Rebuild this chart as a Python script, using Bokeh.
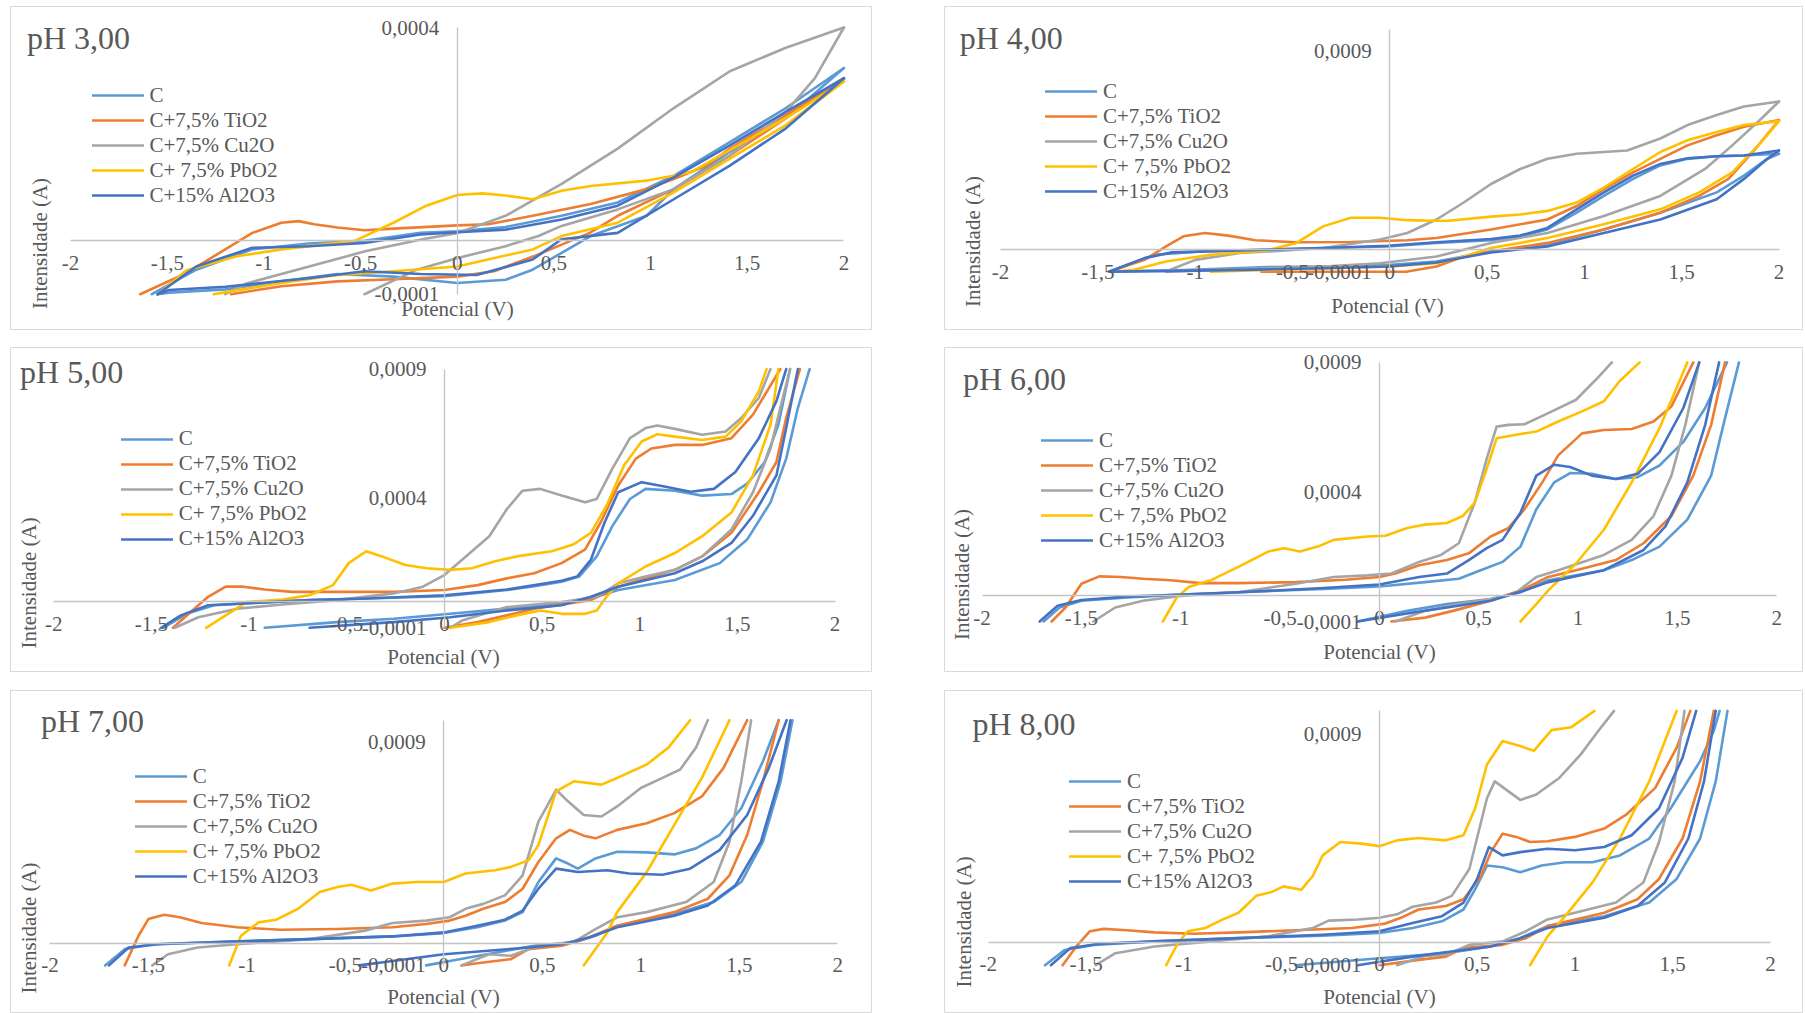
import math
from bokeh.plotting import figure
from bokeh.models import (Range1d, FixedTicker, CustomJSTickFormatter, Label, Legend,
                          LegendItem, Spacer)
from bokeh.layouts import row, column
from bokeh.embed import file_html
from bokeh.resources import INLINE

# ---------------------------------------------------------------- data
I_UNIT = 1e-4  # currents below are given in units of 0.1 mA (1e-4 A)

SERIES = ["C", "C+7,5% TiO2", "C+7,5% Cu2O", "C+ 7,5% PbO2", "C+15% Al2O3"]
COLORS = ["#5B9BD5", "#ED7D31", "#A5A5A5", "#FFC000", "#4472C4"]
PANEL_TITLES = ["pH 3,00", "pH 4,00", "pH 5,00", "pH 6,00", "pH 7,00", "pH 8,00"]
X_TICKS = [-2, -1.5, -1, -0.5, 0, 0.5, 1, 1.5, 2]
Y_TICKS_PH3 = [-0.0001, 0.0004]
Y_TICKS_PH4 = [-0.0001, 0.0009]
Y_TICKS_PH5 = [-0.0001, 0.0004, 0.0009]
Y_TICKS_PH6 = [-0.0001, 0.0004, 0.0009]
Y_TICKS_PH7 = [-0.0001, 0.0009]
Y_TICKS_PH8 = [-0.0001, 0.0009]
Y_MIN = -0.0001
Y_MAX = [0.0004, 0.001, 0.0009, 0.0009, 0.001, 0.001]
X_LABEL = "Potencial (V)"
Y_LABEL = "Intensidade (A)"

# ---- pH 3
PH3_C_V_FWD = [-1.58,-1.35,-1.06,-0.77,-0.48,-0.19,0,0.25,0.54,0.83,1.12,1.41,1.70,2.0]
PH3_C_I_FWD = [-1.0,-0.54,-0.16,-0.05,0,0.15,0.18,0.26,0.47,0.72,1.22,1.85,2.49,3.24]
PH3_C_V_REV = [2.0,1.70,1.41,1.12,0.98,0.69,0.39,0.25,0,-0.33,-0.62,-0.91,-1.20,-1.49,-1.55]
PH3_C_I_REV = [3.24,2.30,1.67,0.97,0.47,0.09,-0.54,-0.73,-0.79,-0.67,-0.62,-0.76,-0.91,-0.97,-1.0]
PH3_TIO2_V_FWD = [-1.64,-1.405,-1.20,-1.06,-0.91,-0.82,-0.74,-0.62,-0.48,-0.33,0,0.16,0.39,0.69,0.98,1.12,1.29,1.41,1.70,2.0]
PH3_TIO2_I_FWD = [-1.0,-0.61,-0.16,0.15,0.34,0.37,0.31,0.25,0.20,0.23,0.29,0.31,0.47,0.69,0.97,1.16,1.41,1.73,2.36,3.04]
PH3_TIO2_V_REV = [2.0,1.70,1.41,1.12,0.83,0.685,0.395,0.19,0,-0.33,-0.62,-0.91,-1.17]
PH3_TIO2_I_REV = [3.04,2.30,1.60,0.97,0.47,0.15,-0.29,-0.57,-0.67,-0.72,-0.76,-0.85,-1.0]
PH3_CU2O_V_FWD = [-1.20,-1.086,-0.766,-0.476,-0.186,0.003,0.25,0.54,0.83,1.12,1.41,1.70,2.0]
PH3_CU2O_I_FWD = [-1.0,-0.795,-0.48,-0.196,0.025,0.15,0.47,1.07,1.73,2.49,3.18,3.62,4.0]
PH3_CU2O_V_REV = [2.0,1.85,1.70,1.41,1.12,0.83,0.54,0.42,0.25,0.003,-0.21,-0.48]
PH3_CU2O_I_REV = [4.0,3.05,2.42,1.60,0.97,0.59,0.28,0.09,-0.10,-0.32,-0.54,-1.0]
PH3_PBO2_V_FWD = [-1.55,-1.40,-1.14,-0.91,-0.53,-0.33,-0.16,0,0.13,0.25,0.39,0.54,0.69,0.98,1.12,1.21,1.41,1.70,2.0]
PH3_PBO2_I_FWD = [-1.0,-0.55,-0.29,-0.16,0,0.34,0.66,0.86,0.89,0.85,0.78,0.94,1.03,1.13,1.22,1.29,1.70,2.30,2.99]
PH3_PBO2_V_REV = [2.0,1.70,1.41,1.12,0.83,0.54,0.39,0,-0.33,-0.62,-0.91,-1.26]
PH3_PBO2_I_REV = [2.99,2.17,1.54,0.91,0.34,0.09,-0.16,-0.48,-0.57,-0.64,-0.79,-1.0]
PH3_AL2O3_V_FWD = [-1.55,-1.35,-1.06,-0.77,-0.48,-0.19,0,0.25,0.54,0.83,1.12,1.41,1.70,2.0]
PH3_AL2O3_I_FWD = [-1.0,-0.48,-0.13,-0.10,-0.04,0.12,0.16,0.21,0.40,0.66,1.19,1.79,2.42,3.05]
PH3_AL2O3_V_REV = [2.0,1.70,1.41,1.12,0.83,0.54,0.39,0.10,-0.19,-0.48,-0.77,-1.20,-1.49,-1.55]
PH3_AL2O3_I_REV = [3.05,2.11,1.41,0.78,0.15,0.03,-0.35,-0.64,-0.62,-0.57,-0.70,-0.86,-0.92,-1.0]

# ---- pH 4
PH4_C_V_FWD = [-1.44,-1.21,-0.97,-0.63,-0.34,-0.01,0.24,0.52,0.67,0.81,0.96,1.10,1.25,1.39,1.53,1.68,1.82,2.0]
PH4_C_I_FWD = [-0.99,-0.23,-0.08,0,0.08,0.15,0.31,0.43,0.61,0.92,1.68,2.44,3.21,3.82,4.12,4.24,4.27,4.35]
PH4_C_V_REV = [2.0,1.94,1.82,1.68,1.39,1.10,0.81,0.52,0.24,-0.01,-0.34,-0.63,-1.06,-1.44]
PH4_C_I_REV = [4.35,4.12,3.36,2.60,1.68,0.92,0.23,-0.08,-0.53,-0.69,-0.76,-0.79,-0.92,-0.99]
PH4_TIO2_V_FWD = [-1.44,-1.26,-1.15,-1.06,-0.95,-0.83,-0.69,-0.48,-0.20,0.09,0.24,0.52,0.81,0.96,1.10,1.25,1.39,1.53,1.68,1.82,2.0]
PH4_TIO2_I_FWD = [-0.99,-0.46,0.15,0.61,0.76,0.64,0.43,0.34,0.35,0.43,0.53,0.92,1.37,1.98,2.75,3.51,4.12,4.73,5.19,5.57,5.88]
PH4_TIO2_V_REV = [2.0,1.88,1.74,1.59,1.39,1.10,0.81,0.52,0.38,0.24,0.09,-0.34,-0.66]
PH4_TIO2_I_REV = [5.88,4.58,3.21,2.44,1.68,0.92,0.31,-0.08,-0.31,-0.76,-0.99,-1.0,-1.0]
PH4_CU2O_V_FWD = [-1.15,-1.0,-0.77,-0.63,-0.34,-0.05,0.09,0.24,0.38,0.52,0.67,0.81,0.96,1.10,1.22,1.39,1.53,1.68,1.82,2.0]
PH4_CU2O_I_FWD = [-0.99,-0.46,-0.15,-0.08,0.08,0.46,0.76,1.37,2.14,2.98,3.66,4.12,4.35,4.43,4.50,5.04,5.65,6.11,6.49,6.72]
PH4_CU2O_V_REV = [2.0,1.91,1.76,1.62,1.39,1.10,0.81,0.52,0.24,-0.05,-0.34,-0.63,-0.92,-1.15]
PH4_CU2O_I_REV = [6.72,5.95,4.73,3.66,2.44,1.53,0.76,0.31,-0.31,-0.61,-0.76,-0.84,-0.92,-0.99]
PH4_PBO2_V_FWD = [-1.41,-1.32,-1.15,-0.92,-0.63,-0.48,-0.34,-0.20,-0.05,0.09,0.29,0.52,0.67,0.81,0.96,1.10,1.25,1.39,1.53,1.68,1.82,2.0]
PH4_PBO2_I_FWD = [-0.99,-0.92,-0.53,-0.23,-0.03,0.31,1.07,1.45,1.45,1.34,1.30,1.50,1.60,1.76,2.14,2.82,3.66,4.43,4.96,5.34,5.65,5.83]
PH4_PBO2_V_REV = [2.0,1.91,1.76,1.59,1.39,1.10,0.81,0.52,0.38,0.24,0.01,-0.34,-0.63,-0.92]
PH4_PBO2_I_REV = [5.83,4.89,3.51,2.60,1.83,1.15,0.53,0.08,-0.31,-0.61,-0.76,-0.84,-0.92,-1.0]
PH4_AL2O3_V_FWD = [-1.44,-1.26,-1.12,-0.77,-0.34,-0.01,0.24,0.52,0.67,0.81,0.96,1.10,1.25,1.39,1.53,1.68,1.82,2.0]
PH4_AL2O3_I_FWD = [-0.99,-0.38,-0.12,-0.03,0.08,0.18,0.34,0.49,0.64,0.99,1.83,2.60,3.36,3.89,4.15,4.24,4.27,4.50]
PH4_AL2O3_V_REV = [2.0,1.94,1.82,1.68,1.39,1.10,0.81,0.52,0.24,-0.01,-0.34,-0.63,-1.06,-1.44]
PH4_AL2O3_I_REV = [4.50,4.12,3.21,2.29,1.37,0.76,0.15,-0.12,-0.58,-0.76,-0.84,-0.89,-0.96,-0.99]

# ---- pH 5
PH5_C_V_FWD = [-1.44,-1.32,-1.18,-0.98,-0.69,-0.40,0,0.32,0.46,0.60,0.69,0.78,0.86,0.95,1.03,1.18,1.32,1.47,1.55,1.64,1.71,1.77]
PH5_C_I_FWD = [-1.0,-0.46,-0.13,-0.04,0.07,0.13,0.22,0.46,0.61,0.78,0.98,1.76,2.93,3.98,4.37,4.30,4.11,4.17,4.57,5.41,6.85,9.0]
PH5_C_V_REV = [1.87,1.81,1.75,1.67,1.55,1.41,1.18,0.89,0.75,0.60,0.32,0.03,-0.26,-0.55,-0.92]
PH5_C_I_REV = [9.0,7.5,5.54,3.85,2.41,1.50,0.85,0.46,0.13,-0.07,-0.26,-0.46,-0.65,-0.78,-1.0]
PH5_TIO2_V_FWD = [-1.39,-1.29,-1.21,-1.12,-1.03,-0.92,-0.78,-0.55,-0.26,0,0.17,0.32,0.46,0.60,0.72,0.80,0.89,0.98,1.06,1.18,1.32,1.47,1.58,1.72]
PH5_TIO2_I_FWD = [-1.0,-0.33,0.20,0.59,0.59,0.48,0.39,0.39,0.39,0.46,0.65,0.91,1.11,1.50,2.02,3.07,4.50,5.54,5.93,6.07,6.07,6.33,7.24,9.0]
PH5_TIO2_V_REV = [1.82,1.75,1.70,1.61,1.47,1.32,1.18,1.03,0.89,0.75,0.60,0.46,0.32,0.17,0]
PH5_TIO2_I_REV = [9.0,7.11,5.41,4.24,2.67,1.76,1.24,0.91,0.59,0.07,-0.10,-0.26,-0.52,-0.78,-1.0]
PH5_CU2O_V_FWD = [-1.38,-1.26,-1.06,-0.83,-0.55,-0.26,-0.11,0,0.11,0.23,0.32,0.40,0.49,0.60,0.72,0.78,0.86,0.95,1.03,1.09,1.18,1.32,1.44,1.52,1.61,1.67]
PH5_CU2O_I_FWD = [-1.0,-0.59,-0.26,-0.10,0.07,0.33,0.59,1.04,1.76,2.54,3.59,4.30,4.37,4.11,3.85,3.98,5.15,6.33,6.72,6.82,6.69,6.46,6.59,7.11,7.89,9.0]
PH5_CU2O_V_REV = [1.77,1.72,1.67,1.58,1.47,1.32,1.18,1.03,0.89,0.78,0.60,0.32,0.09,0.03]
PH5_CU2O_I_REV = [9.0,7.50,5.93,4.24,2.80,1.76,1.24,0.98,0.72,0.20,0,-0.20,-0.72,-1.0]
PH5_PBO2_V_FWD = [-1.22,-1.12,-1.01,-0.83,-0.69,-0.57,-0.49,-0.40,-0.32,-0.20,-0.09,0.03,0.14,0.26,0.37,0.55,0.66,0.75,0.83,0.92,1.01,1.09,1.18,1.32,1.44,1.52,1.61,1.65]
PH5_PBO2_I_FWD = [-1.0,-0.52,0,0.09,0.26,0.65,1.50,1.96,1.76,1.43,1.30,1.24,1.30,1.57,1.76,1.96,2.22,2.67,3.72,5.28,6.20,6.48,6.39,6.26,6.39,6.98,8.15,9.0]
PH5_PBO2_V_REV = [1.71,1.67,1.58,1.47,1.32,1.18,1.03,0.89,0.83,0.78,0.72,0.60,0.49,0.37,0.23,0.03]
PH5_PBO2_I_REV = [9.0,6.85,4.89,3.46,2.54,1.89,1.37,0.72,0.20,-0.33,-0.46,-0.46,-0.33,-0.52,-0.78,-1.0]
PH5_AL2O3_V_FWD = [-1.45,-1.35,-1.21,-0.98,-0.69,-0.40,0,0.32,0.60,0.68,0.75,0.82,0.89,1.01,1.12,1.26,1.38,1.49,1.61,1.70,1.75]
PH5_AL2O3_I_FWD = [-1.0,-0.52,-0.13,-0.04,0.07,0.13,0.26,0.48,0.82,0.98,1.63,3.07,4.24,4.63,4.47,4.26,4.37,5.02,6.33,7.76,9.0]
PH5_AL2O3_V_REV = [1.81,1.75,1.70,1.58,1.47,1.32,1.18,0.89,0.75,0.60,0.32,0.03,-0.26,-0.69]
PH5_AL2O3_I_REV = [9.0,6.72,4.89,3.33,2.28,1.57,1.11,0.59,0.20,-0.13,-0.33,-0.59,-0.78,-1.0]

# ---- pH 6
PH6_C_V_FWD = [-1.69,-1.61,-1.50,-1.27,-0.99,-0.71,-0.28,0,0.23,0.40,0.51,0.62,0.71,0.79,0.88,0.96,1.07,1.19,1.30,1.41,1.53,1.64,1.75]
PH6_C_I_FWD = [-1.0,-0.46,-0.20,-0.07,0.04,0.13,0.26,0.35,0.52,0.65,0.98,1.30,1.89,3.33,4.37,4.73,4.70,4.50,4.57,5.02,5.93,7.24,9.0]
PH6_C_V_REV = [1.81,1.74,1.67,1.55,1.41,1.27,1.13,0.85,0.71,0.56,0.34,0.14,-0.11]
PH6_C_I_REV = [9.0,6.85,4.63,2.93,1.89,1.37,0.98,0.59,0.13,-0.13,-0.33,-0.59,-1.0]
PH6_TIO2_V_FWD = [-1.65,-1.58,-1.50,-1.41,-1.30,-1.19,-1.05,-0.90,-0.71,-0.42,-0.17,0,0.08,0.20,0.34,0.45,0.56,0.65,0.73,0.82,0.90,1.02,1.13,1.27,1.38,1.47,1.58]
PH6_TIO2_I_FWD = [-1.0,-0.46,0.46,0.74,0.72,0.65,0.59,0.48,0.48,0.52,0.61,0.72,0.85,1.17,1.37,1.63,2.28,2.61,3.33,4.37,5.41,6.26,6.39,6.43,6.72,7.30,9.0]
PH6_TIO2_V_REV = [1.74,1.67,1.58,1.47,1.33,1.19,0.99,0.85,0.73,0.56,0.37,0.23,0.06]
PH6_TIO2_I_REV = [9.0,6.59,4.63,3.07,2.02,1.37,0.98,0.72,0.26,-0.20,-0.59,-0.85,-1.0]
PH6_CU2O_V_FWD = [-1.44,-1.33,-1.19,-0.99,-0.71,-0.42,-0.23,-0.06,0.06,0.20,0.31,0.40,0.48,0.54,0.59,0.65,0.73,0.85,0.99,1.10,1.17]
PH6_CU2O_I_FWD = [-1.0,-0.46,-0.20,0,0.13,0.46,0.72,0.78,0.85,1.30,1.57,2.02,3.59,5.28,6.52,6.59,6.61,7.04,7.56,8.41,9.0]
PH6_CU2O_V_REV = [1.61,1.54,1.47,1.38,1.27,1.13,0.90,0.79,0.68,0.56,0.40,0.23,0.08]
PH6_CU2O_I_REV = [9.0,6.59,4.63,3.07,2.15,1.57,0.98,0.72,0.07,-0.13,-0.33,-0.59,-1.0]
PH6_PBO2_V_FWD = [-1.09,-1.02,-0.96,-0.85,-0.71,-0.56,-0.48,-0.40,-0.31,-0.23,-0.06,0.03,0.14,0.23,0.34,0.42,0.48,0.54,0.59,0.68,0.79,0.90,1.02,1.13,1.21,1.31]
PH6_PBO2_I_FWD = [-1.0,-0.07,0.33,0.59,1.11,1.70,1.83,1.70,1.89,2.15,2.28,2.31,2.61,2.74,2.80,3.07,3.59,4.89,6.07,6.20,6.33,6.72,7.11,7.50,8.28,9.0]
PH6_PBO2_V_REV = [1.55,1.41,1.27,1.13,0.99,0.85,0.79,0.71]
PH6_PBO2_I_REV = [9.0,6.46,4.37,2.54,1.24,0.20,-0.33,-1.0]
PH6_AL2O3_V_FWD = [-1.71,-1.62,-1.50,-1.27,-0.99,-0.71,-0.28,0,0.20,0.34,0.45,0.54,0.62,0.71,0.79,0.88,0.96,1.07,1.19,1.30,1.41,1.53,1.61]
PH6_AL2O3_I_FWD = [-1.0,-0.39,-0.17,-0.04,0.04,0.13,0.29,0.43,0.72,0.85,1.37,1.83,2.15,3.20,4.63,5.05,4.96,4.63,4.50,4.70,5.54,7.24,9.0]
PH6_AL2O3_V_REV = [1.71,1.64,1.55,1.44,1.33,1.13,0.85,0.73,0.56,0.34,0.17,-0.11]
PH6_AL2O3_I_REV = [9.0,6.59,4.37,2.67,1.76,0.98,0.52,0.20,-0.20,-0.46,-0.65,-1.0]

# ---- pH 7
PH7_C_V_FWD = [-1.72,-1.62,-1.48,-1.11,-0.68,-0.26,0,0.17,0.31,0.40,0.48,0.57,0.63,0.68,0.77,0.88,1.03,1.17,1.28,1.40,1.51,1.62,1.70]
PH7_C_I_FWD = [-1.0,-0.27,-0.05,0.06,0.18,0.30,0.45,0.71,1.01,1.39,2.74,3.80,3.57,3.34,3.80,4.10,4.07,3.98,4.25,4.85,6.05,8.16,10.0]
PH7_C_V_REV = [1.77,1.71,1.62,1.51,1.37,1.17,0.88,0.77,0.66,0.46,0.31,0.03,-0.09]
PH7_C_I_REV = [10.0,7.26,4.55,2.74,1.84,1.31,0.78,0.33,0.03,-0.12,-0.35,-0.80,-1.0]
PH7_TIO2_V_FWD = [-1.62,-1.55,-1.50,-1.42,-1.34,-1.23,-1.05,-0.83,-0.54,-0.26,-0.09,0.03,0.11,0.20,0.31,0.40,0.48,0.57,0.64,0.71,0.77,0.88,1.03,1.17,1.31,1.42,1.54]
PH7_TIO2_I_FWD = [-1.0,0.33,1.08,1.27,1.16,0.90,0.71,0.60,0.63,0.71,0.86,1.01,1.23,1.54,1.84,2.44,3.64,4.70,5.08,4.82,4.70,5.08,5.38,5.83,6.58,7.86,10.0]
PH7_TIO2_V_REV = [1.70,1.62,1.54,1.45,1.34,1.17,0.88,0.74,0.60,0.43,0.34,0.17,0.09]
PH7_TIO2_I_REV = [10.0,7.26,4.85,3.04,1.99,1.39,0.78,0.26,-0.12,-0.27,-0.72,-0.90,-1.0]
PH7_CU2O_V_FWD = [-1.48,-1.40,-1.25,-1.05,-0.68,-0.40,-0.26,-0.09,0.03,0.11,0.20,0.31,0.40,0.48,0.57,0.63,0.71,0.80,0.88,1.00,1.11,1.20,1.28,1.34]
PH7_CU2O_I_FWD = [-1.0,-0.50,-0.20,-0.05,0.18,0.56,0.90,1.01,1.16,1.54,1.76,2.14,3.04,5.45,6.88,6.36,5.75,5.68,6.13,6.96,7.41,7.79,8.77,10.0]
PH7_CU2O_V_REV = [1.56,1.51,1.45,1.37,1.23,1.03,0.88,0.77,0.66,0.48,0.34,0.23,0.09]
PH7_CU2O_I_REV = [10.0,7.26,4.55,2.74,1.84,1.39,1.16,0.63,0.06,-0.12,-0.57,-0.50,-1.0]
PH7_PBO2_V_FWD = [-1.09,-1.03,-0.94,-0.85,-0.74,-0.63,-0.54,-0.47,-0.37,-0.26,-0.14,0,0.11,0.26,0.34,0.43,0.48,0.57,0.66,0.80,0.88,1.03,1.14,1.25]
PH7_PBO2_I_FWD = [-1.0,0.33,0.93,1.05,1.54,2.29,2.52,2.62,2.36,2.67,2.74,2.74,3.12,3.27,3.42,3.72,4.40,6.81,7.26,7.11,7.41,8.01,8.77,10.0]
PH7_PBO2_V_REV = [1.45,1.31,1.17,1.03,0.88,0.83,0.71]
PH7_PBO2_I_REV = [10.0,7.41,5.30,3.19,1.39,0.48,-1.0]
PH7_AL2O3_V_FWD = [-1.70,-1.60,-1.45,-1.11,-0.68,-0.26,0,0.17,0.31,0.40,0.48,0.57,0.68,0.83,0.94,1.11,1.25,1.40,1.54,1.65,1.74]
PH7_AL2O3_I_FWD = [-1.0,-0.20,-0.05,0.06,0.18,0.30,0.48,0.78,1.05,1.46,2.44,3.34,3.19,3.27,3.12,3.07,3.34,4.17,5.75,7.86,10.0]
PH7_AL2O3_V_REV = [1.76,1.70,1.61,1.48,1.34,1.17,0.88,0.74,0.60,0.37,0,-0.26,-0.43]
PH7_AL2O3_I_REV = [10.0,7.26,4.55,2.59,1.69,1.23,0.71,0.26,-0.05,-0.24,-0.50,-0.80,-1.0]

# ---- pH 8
PH8_C_V_FWD = [-1.71,-1.61,-1.46,-1.15,-0.72,-0.29,0,0.17,0.32,0.43,0.49,0.55,0.63,0.72,0.83,0.95,1.09,1.23,1.38,1.49,1.64,1.71,1.74]
PH8_C_I_FWD = [-1.0,-0.34,-0.12,0.03,0.17,0.28,0.39,0.61,0.90,1.41,2.29,3.31,3.24,3.02,3.31,3.45,3.45,3.75,4.48,5.79,7.83,9.14,10.0]
PH8_C_V_REV = [1.78,1.72,1.64,1.52,1.38,1.15,0.86,0.72,0.57,0.40,0.23,0,-0.43]
PH8_C_I_REV = [10.0,6.95,4.48,2.73,1.71,1.12,0.69,0.17,-0.19,-0.41,-0.55,-0.70,-1.0]
PH8_TIO2_V_FWD = [-1.62,-1.55,-1.48,-1.41,-1.29,-1.15,-0.95,-0.72,-0.43,-0.14,0.03,0.11,0.20,0.34,0.43,0.52,0.57,0.63,0.70,0.77,0.86,1.00,1.15,1.26,1.41,1.52,1.59]
PH8_TIO2_I_FWD = [-1.0,-0.19,0.47,0.57,0.51,0.42,0.36,0.42,0.51,0.61,0.80,1.05,1.41,1.56,1.85,2.87,3.89,4.69,4.55,4.33,4.36,4.55,4.91,5.50,6.66,8.41,10.0]
PH8_TIO2_V_REV = [1.71,1.64,1.55,1.43,1.32,1.15,0.86,0.75,0.63,0.43,0.34,0.20,0]
PH8_TIO2_I_REV = [10.0,6.95,4.48,2.73,1.85,1.27,0.69,0.17,-0.12,-0.26,-0.63,-0.77,-1.0]
PH8_CU2O_V_FWD = [-1.45,-1.35,-1.15,-0.86,-0.57,-0.34,-0.26,-0.11,0,0.09,0.17,0.29,0.37,0.46,0.55,0.59,0.66,0.72,0.80,0.92,1.03,1.12,1.20]
PH8_CU2O_I_FWD = [-1.0,-0.48,-0.19,0.03,0.25,0.61,0.93,0.98,1.05,1.20,1.53,1.71,2.00,3.16,6.22,6.95,6.52,6.15,6.37,7.10,8.12,9.14,10.0]
PH8_CU2O_V_REV = [1.56,1.51,1.43,1.35,1.21,1.00,0.86,0.75,0.63,0.46,0.34,0.23,0.09]
PH8_CU2O_I_REV = [10.0,6.95,4.33,2.58,1.71,1.27,0.98,0.47,0.03,-0.12,-0.55,-0.60,-1.0]
PH8_PBO2_V_FWD = [-1.09,-1.03,-0.98,-0.89,-0.80,-0.72,-0.63,-0.55,-0.49,-0.40,-0.34,-0.29,-0.20,-0.09,0,0.09,0.20,0.34,0.43,0.49,0.55,0.63,0.72,0.79,0.88,0.98,1.10]
PH8_PBO2_I_FWD = [-1.0,-0.04,0.47,0.61,0.98,1.27,2.00,2.17,2.41,2.26,2.87,3.75,4.33,4.26,4.15,4.40,4.50,4.40,4.62,5.79,7.68,8.70,8.48,8.27,9.17,9.29,10.0]
PH8_PBO2_V_REV = [1.52,1.38,1.23,1.09,0.95,0.86,0.77]
PH8_PBO2_I_REV = [10.0,6.95,4.48,2.58,1.12,0.25,-1.0]
PH8_AL2O3_V_FWD = [-1.68,-1.58,-1.43,-1.15,-0.72,-0.29,0,0.17,0.32,0.43,0.50,0.56,0.63,0.72,0.86,1.00,1.15,1.29,1.43,1.55,1.62]
PH8_AL2O3_I_FWD = [-1.0,-0.26,-0.07,0.03,0.17,0.32,0.47,0.83,1.12,1.71,2.73,4.11,3.75,3.89,4.04,3.97,4.11,4.62,5.79,7.97,10.0]
PH8_AL2O3_V_REV = [1.72,1.66,1.58,1.46,1.32,1.15,0.86,0.72,0.57,0.37,0.17,0,-0.11]
PH8_AL2O3_I_REV = [10.0,6.95,4.48,2.58,1.56,1.05,0.61,0.17,-0.19,-0.41,-0.63,-0.85,-1.0]

PANEL_DATA = [
    [(PH3_C_V_FWD, PH3_C_I_FWD, PH3_C_V_REV, PH3_C_I_REV),
     (PH3_TIO2_V_FWD, PH3_TIO2_I_FWD, PH3_TIO2_V_REV, PH3_TIO2_I_REV),
     (PH3_CU2O_V_FWD, PH3_CU2O_I_FWD, PH3_CU2O_V_REV, PH3_CU2O_I_REV),
     (PH3_PBO2_V_FWD, PH3_PBO2_I_FWD, PH3_PBO2_V_REV, PH3_PBO2_I_REV),
     (PH3_AL2O3_V_FWD, PH3_AL2O3_I_FWD, PH3_AL2O3_V_REV, PH3_AL2O3_I_REV)],
    [(PH4_C_V_FWD, PH4_C_I_FWD, PH4_C_V_REV, PH4_C_I_REV),
     (PH4_TIO2_V_FWD, PH4_TIO2_I_FWD, PH4_TIO2_V_REV, PH4_TIO2_I_REV),
     (PH4_CU2O_V_FWD, PH4_CU2O_I_FWD, PH4_CU2O_V_REV, PH4_CU2O_I_REV),
     (PH4_PBO2_V_FWD, PH4_PBO2_I_FWD, PH4_PBO2_V_REV, PH4_PBO2_I_REV),
     (PH4_AL2O3_V_FWD, PH4_AL2O3_I_FWD, PH4_AL2O3_V_REV, PH4_AL2O3_I_REV)],
    [(PH5_C_V_FWD, PH5_C_I_FWD, PH5_C_V_REV, PH5_C_I_REV),
     (PH5_TIO2_V_FWD, PH5_TIO2_I_FWD, PH5_TIO2_V_REV, PH5_TIO2_I_REV),
     (PH5_CU2O_V_FWD, PH5_CU2O_I_FWD, PH5_CU2O_V_REV, PH5_CU2O_I_REV),
     (PH5_PBO2_V_FWD, PH5_PBO2_I_FWD, PH5_PBO2_V_REV, PH5_PBO2_I_REV),
     (PH5_AL2O3_V_FWD, PH5_AL2O3_I_FWD, PH5_AL2O3_V_REV, PH5_AL2O3_I_REV)],
    [(PH6_C_V_FWD, PH6_C_I_FWD, PH6_C_V_REV, PH6_C_I_REV),
     (PH6_TIO2_V_FWD, PH6_TIO2_I_FWD, PH6_TIO2_V_REV, PH6_TIO2_I_REV),
     (PH6_CU2O_V_FWD, PH6_CU2O_I_FWD, PH6_CU2O_V_REV, PH6_CU2O_I_REV),
     (PH6_PBO2_V_FWD, PH6_PBO2_I_FWD, PH6_PBO2_V_REV, PH6_PBO2_I_REV),
     (PH6_AL2O3_V_FWD, PH6_AL2O3_I_FWD, PH6_AL2O3_V_REV, PH6_AL2O3_I_REV)],
    [(PH7_C_V_FWD, PH7_C_I_FWD, PH7_C_V_REV, PH7_C_I_REV),
     (PH7_TIO2_V_FWD, PH7_TIO2_I_FWD, PH7_TIO2_V_REV, PH7_TIO2_I_REV),
     (PH7_CU2O_V_FWD, PH7_CU2O_I_FWD, PH7_CU2O_V_REV, PH7_CU2O_I_REV),
     (PH7_PBO2_V_FWD, PH7_PBO2_I_FWD, PH7_PBO2_V_REV, PH7_PBO2_I_REV),
     (PH7_AL2O3_V_FWD, PH7_AL2O3_I_FWD, PH7_AL2O3_V_REV, PH7_AL2O3_I_REV)],
    [(PH8_C_V_FWD, PH8_C_I_FWD, PH8_C_V_REV, PH8_C_I_REV),
     (PH8_TIO2_V_FWD, PH8_TIO2_I_FWD, PH8_TIO2_V_REV, PH8_TIO2_I_REV),
     (PH8_CU2O_V_FWD, PH8_CU2O_I_FWD, PH8_CU2O_V_REV, PH8_CU2O_I_REV),
     (PH8_PBO2_V_FWD, PH8_PBO2_I_FWD, PH8_PBO2_V_REV, PH8_PBO2_I_REV),
     (PH8_AL2O3_V_FWD, PH8_AL2O3_I_FWD, PH8_AL2O3_V_REV, PH8_AL2O3_I_REV)],
]
Y_TICKS = [Y_TICKS_PH3, Y_TICKS_PH4, Y_TICKS_PH5, Y_TICKS_PH6, Y_TICKS_PH7, Y_TICKS_PH8]

# ---------------------------------------------------------------- layout (pixels)
# w,h: panel size; xa/xb: pixel of V=-2 / V=+2; yt/yb: pixel of y max / y min
GEOM = [
    dict(w=862, h=324, xa=60.1, xb=833.4, yt=21.0, yb=287.7, title=(16.4, 31.0),
         ylab=(29.3, 237), xlab=(447, 302.0), leg=(81.5, 88.3, 25.2)),
    dict(w=859, h=324, xa=56.1, xb=834.5, yt=22.6, yb=265.3, title=(15.2, 31.0),
         ylab=(28, 235), xlab=(443, 299.5), leg=(101, 93.3, 23.0)),
    dict(w=862, h=325, xa=43.3, xb=824.5, yt=21.6, yb=280.3, title=(9.6, 24.0),
         ylab=(18, 235.4), xlab=(433, 309.4), leg=(110.7, 92.3, 24.8)),
    dict(w=859, h=325, xa=37.6, xb=832.2, yt=14.9, yb=274.0, title=(18.5, 31.0),
         ylab=(17, 227), xlab=(435, 304.3), leg=(97, 97.4, 24.0)),
    dict(w=862, h=323, xa=39.4, xb=827.3, yt=29.7, yb=274.9, title=(30.4, 30.3),
         ylab=(18, 237.5), xlab=(433, 306.5), leg=(124.7, 94.4, 22.9)),
    dict(w=859, h=323, xa=43.8, xb=826.0, yt=20.4, yb=274.7, title=(28, 33.5),
         ylab=(19.7, 231.4), xlab=(435, 306.5), leg=(125, 90.3, 25.2)),
]

FONT = "Liberation Serif"
TXT = "#595959"
AXIS_COL = "#c4c4c4"
ITEM_H = 25.0

fmt_code = "return tick.toString().replace('.', ',');"


def make_panel(idx):
    g = GEOM[idx]
    W, H = g["w"], g["h"]
    kx = 4.0 / (g["xb"] - g["xa"])
    x0 = -2 - g["xa"] * kx
    x1 = x0 + W * kx
    ymax = Y_MAX[idx]
    ky = (ymax - Y_MIN) / (g["yb"] - g["yt"])
    y1 = ymax + g["yt"] * ky
    y0 = y1 - H * ky

    def px(xp):
        return x0 + xp * kx

    def py(yp):
        return y1 - yp * ky

    p = figure(width=W, height=H, x_range=Range1d(x0, x1), y_range=Range1d(y0, y1),
               min_border=0, toolbar_location=None, output_backend="svg",
               outline_line_color="#d9d9d9", outline_line_width=1,
               background_fill_color="white", border_fill_color="white")
    p.xgrid.visible = False
    p.ygrid.visible = False

    xa = p.xaxis[0]
    xa.fixed_location = 0
    xa.bounds = (-2, 2)
    xa.ticker = FixedTicker(ticks=X_TICKS)
    xa.formatter = CustomJSTickFormatter(code=fmt_code)
    ya = p.yaxis[0]
    ya.fixed_location = 0
    ya.bounds = (Y_MIN, ymax)
    ya.ticker = FixedTicker(ticks=Y_TICKS[idx])
    ya.formatter = CustomJSTickFormatter(code=fmt_code)
    for ax, so in ((xa, 15), (ya, 18)):
        ax.axis_line_color = AXIS_COL
        ax.axis_line_width = 1.3
        ax.major_tick_line_color = None
        ax.minor_tick_line_color = None
        ax.major_tick_in = 0
        ax.major_tick_out = 0
        ax.minor_tick_in = 0
        ax.minor_tick_out = 0
        ax.major_label_standoff = so
        ax.major_label_text_font = FONT
        ax.major_label_text_font_size = "21px"
        ax.major_label_text_color = TXT

    items = []
    for s, (vf, i_f, vr, i_r) in enumerate(PANEL_DATA[idx]):
        r = p.multi_line(xs=[vf, vr],
                         ys=[[v * I_UNIT for v in i_f], [v * I_UNIT for v in i_r]],
                         line_color=COLORS[s], line_width=2.6, line_join="round",
                         line_cap="round")
        items.append(LegendItem(label=SERIES[s], renderers=[r]))

    lx, r1, pitch = g["leg"]
    n = len(SERIES)
    bottom_px = r1 + (n - 1) * pitch + ITEM_H / 2
    leg = Legend(items=items, location=(lx, H - bottom_px), orientation="vertical",
                 glyph_width=52, glyph_height=20, label_height=20, label_standoff=6,
                 spacing=int(round(pitch - ITEM_H)), padding=0, margin=0,
                 background_fill_alpha=0, border_line_alpha=0,
                 label_text_font=FONT, label_text_font_size="21px",
                 label_text_color=TXT)
    p.add_layout(leg)

    tx, ty = g["title"]
    p.add_layout(Label(x=px(tx), y=py(ty), text=PANEL_TITLES[idx], text_font=FONT,
                       text_font_size="32px", text_color=TXT, text_align="left",
                       text_baseline="middle"))
    yx, yy = g["ylab"]
    p.add_layout(Label(x=px(yx), y=py(yy), text=Y_LABEL, text_font=FONT,
                       text_font_size="21px", text_color=TXT, text_align="center",
                       text_baseline="middle", angle=math.pi / 2))
    xx, xy = g["xlab"]
    p.add_layout(Label(x=px(xx), y=py(xy), text=X_LABEL, text_font=FONT,
                       text_font_size="21px", text_color=TXT, text_align="center",
                       text_baseline="middle"))
    return p


panels = [make_panel(i) for i in range(6)]

layout = column(
    Spacer(height=6),
    row(Spacer(width=10), panels[0], Spacer(width=72), panels[1]),
    Spacer(height=17),
    row(Spacer(width=10), panels[2], Spacer(width=72), panels[3]),
    Spacer(height=18),
    row(Spacer(width=10), panels[4], Spacer(width=72), panels[5]),
)

open("out.html", "w").write(file_html(layout, INLINE))
